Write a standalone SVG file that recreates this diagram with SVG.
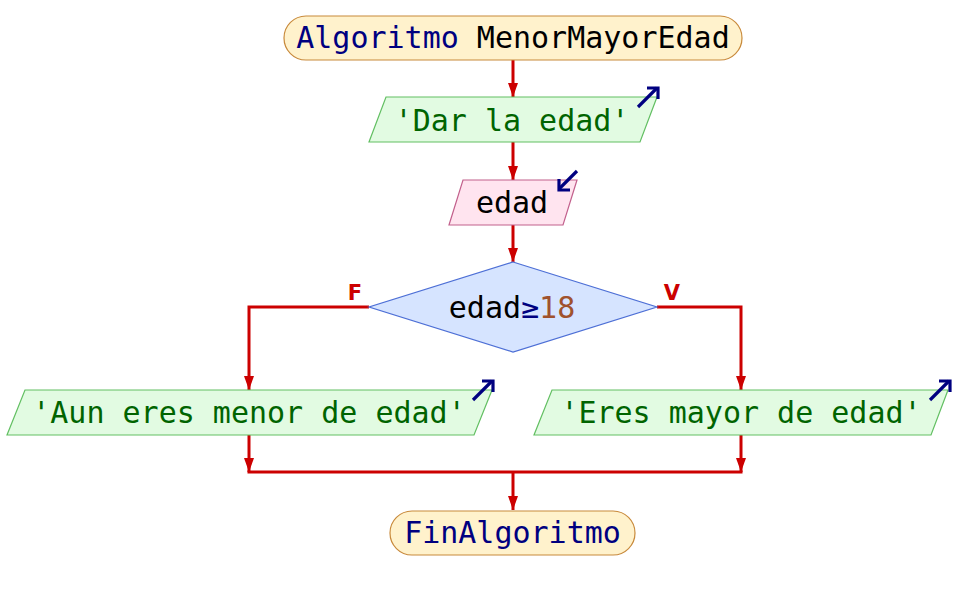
<svg xmlns="http://www.w3.org/2000/svg" width="954" height="607" viewBox="0 0 954 607">
<defs>
<marker id="ah" markerWidth="14" markerHeight="10" refX="14" refY="5" orient="auto" markerUnits="userSpaceOnUse">
<path d="M0,0 L14,5 L0,10 Z" fill="#cc0000"/>
</marker>
<style>
.t{font-family:"DejaVu Sans Mono","Liberation Mono",monospace;font-size:30px;text-anchor:middle}
.term{fill:#fff2cc;stroke:#c8893a;stroke-width:1.2}
.out{fill:#e2fbe2;stroke:#62bf62;stroke-width:1.2}
.in{fill:#ffe4ef;stroke:#c2608c;stroke-width:1.2}
.dec{fill:#d6e4ff;stroke:#4d6fd6;stroke-width:1.2}
.c{fill:none;stroke:#cc0000;stroke-width:3}
.ic{fill:none;stroke:#000080;stroke-width:3.2}
.kw{fill:#000080}
.str{fill:#006400}
.var{fill:#000000}
.num{fill:#a0522d}
.lb{font-family:"DejaVu Sans","Liberation Sans",sans-serif;font-size:21px;font-weight:bold;fill:#cc0000;text-anchor:middle}
</style>
</defs>
<rect width="954" height="607" fill="#ffffff"/>
<g id="connectors">
<line class="c" x1="513" y1="60" x2="513" y2="97" marker-end="url(#ah)"/>
<line class="c" x1="513" y1="142" x2="513" y2="180" marker-end="url(#ah)"/>
<line class="c" x1="513" y1="225" x2="513" y2="262" marker-end="url(#ah)"/>
<polyline class="c" points="369,307 249,307 249,390" marker-end="url(#ah)"/>
<polyline class="c" points="657,307 741,307 741,390" marker-end="url(#ah)"/>
<line class="c" x1="249" y1="435" x2="249" y2="472" marker-end="url(#ah)"/>
<line class="c" x1="741" y1="435" x2="741" y2="472" marker-end="url(#ah)"/>
<line class="c" x1="247.5" y1="472" x2="742.5" y2="472"/>
<line class="c" x1="513" y1="472" x2="513" y2="510" marker-end="url(#ah)"/>
<text class="lb" x="355" y="300">F</text>
<text class="lb" x="672" y="300">V</text>
</g>
<g id="start">
<rect class="term" x="284" y="16" width="458" height="44" rx="22" ry="22"/>
<text class="t" x="513" y="48"><tspan class="kw">Algoritmo</tspan><tspan class="var"> MenorMayorEdad</tspan></text>
</g>
<g id="out1">
<polygon class="out" points="386,97 657,97 640,142 369,142"/>
<text class="t str" x="512" y="131">'Dar la edad'</text>
<path class="ic" d="M638,107 L657,88"/>
<polyline class="ic" points="647,88 658,88 658,99"/>
</g>
<g id="in1">
<polygon class="in" points="463,180 577,180 563,225 449,225"/>
<text class="t var" x="512" y="213">edad</text>
<path class="ic" d="M577,171 L559,189"/>
<polyline class="ic" points="559,179 559,190 570,190"/>
</g>
<g id="decision">
<polygon class="dec" points="513,262 657,307 513,352 369,307"/>
<text class="t" x="512" y="318"><tspan class="var">edad</tspan><tspan class="kw">≥</tspan><tspan class="num">18</tspan></text>
</g>
<g id="outF">
<polygon class="out" points="25,390 492,390 474,435 7,435"/>
<text class="t str" x="249" y="423">'Aun eres menor de edad'</text>
<path class="ic" d="M473,400 L492,381"/>
<polyline class="ic" points="482,381 493,381 493,392"/>
</g>
<g id="outV">
<polygon class="out" points="552,390 948,390 931,435 534,435"/>
<text class="t str" x="741" y="423">'Eres mayor de edad'</text>
<path class="ic" d="M930,400 L949,381"/>
<polyline class="ic" points="939,381 950,381 950,392"/>
</g>
<g id="end">
<rect class="term" x="390" y="511" width="245" height="44" rx="22" ry="22"/>
<text class="t kw" x="512.5" y="543">FinAlgoritmo</text>
</g>
</svg>
